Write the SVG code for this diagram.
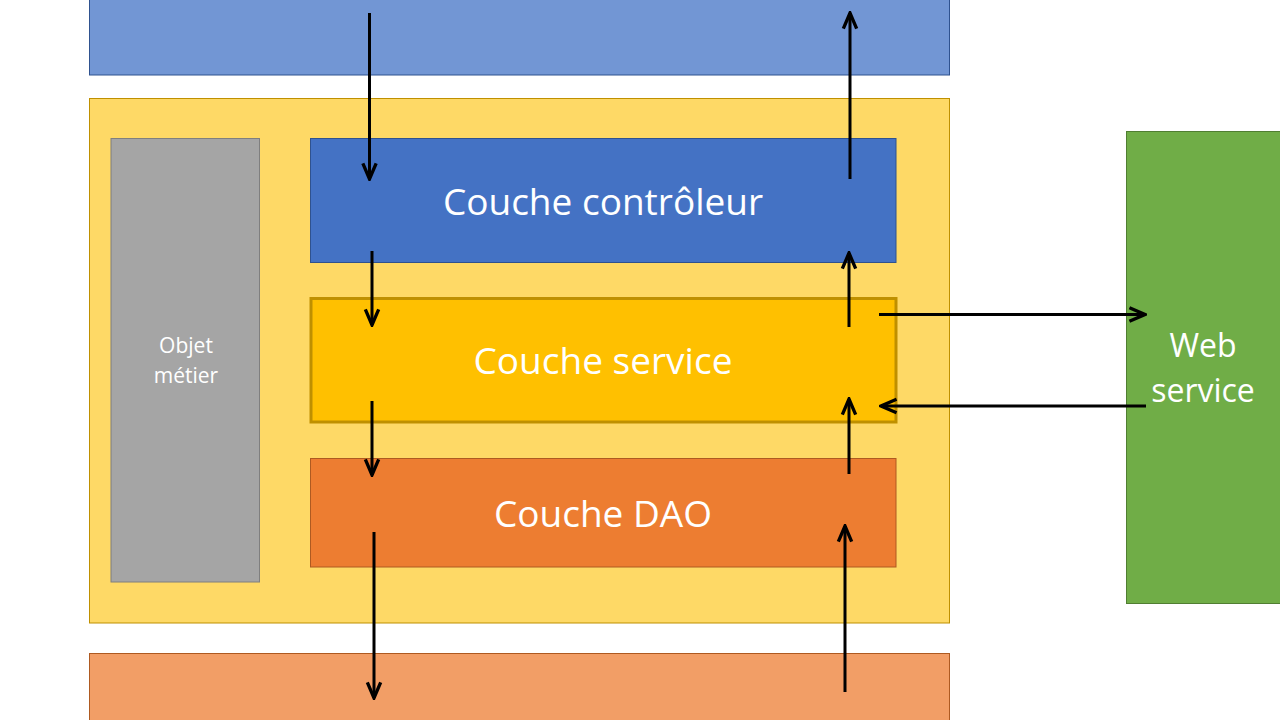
<svg xmlns="http://www.w3.org/2000/svg" width="1280" height="720" viewBox="0 0 1280 720">
<style>
.t{fill:#fff;font-family:"Open Sans","Liberation Sans",sans-serif;text-anchor:middle}
.c{stroke:#000;stroke-width:3;fill:none;marker-end:url(#ah)}
</style>
<defs>
<marker id="ah" markerUnits="userSpaceOnUse" markerWidth="20" markerHeight="20" viewBox="-16 -8 18 16" refX="0" refY="0" orient="auto">
<path d="M-14,-6 L0,0 L-14,6" fill="none" stroke="#000" stroke-width="3"/>
</marker>
</defs>
<rect width="1280" height="720" fill="#fff"/>
<g id="top"><rect x="89.5" y="-5" width="860" height="80" fill="#7296D4" stroke="#2F528F"/></g>
<g id="app"><rect x="89.5" y="98.5" width="860" height="524.5" fill="#FED966" stroke="#BF9000"/></g>
<g id="objet"><rect x="111" y="138.5" width="148.5" height="443.5" fill="#A5A5A5" stroke="#7F7F7F"/>
<text class="t" x="186" y="353" font-size="21">Objet</text><text class="t" x="186" y="383" font-size="21">métier</text></g>
<g id="controleur"><rect x="310.5" y="138.5" width="585.5" height="124" fill="#4472C4" stroke="#2F528F"/>
<text class="t" x="603" y="215" font-size="37">Couche contrôleur</text></g>
<g id="service"><rect x="311" y="298.5" width="585" height="123.5" fill="#FFC000" stroke="#BF9000" stroke-width="3"/>
<text class="t" x="603" y="374" font-size="37">Couche service</text></g>
<g id="dao"><rect x="310.5" y="458.5" width="585.5" height="108.5" fill="#ED7D31" stroke="#AE5A21"/>
<text class="t" x="603" y="527" font-size="37">Couche DAO</text></g>
<g id="webservice"><rect x="1126.5" y="131.5" width="160" height="472" fill="#70AD47" stroke="#507E32"/>
<text class="t" x="1203" y="357" font-size="32">Web</text><text class="t" x="1203" y="402" font-size="32">service</text></g>
<g id="db"><rect x="89.5" y="653.5" width="860" height="80" fill="#F29E66" stroke="#AE5A21"/></g>
<g id="connectors">
<line class="c" x1="369.5" y1="13" x2="369.5" y2="179"/>
<line class="c" x1="372" y1="251" x2="372" y2="325"/>
<line class="c" x1="372" y1="401" x2="372" y2="475"/>
<line class="c" x1="374" y1="532" x2="374" y2="698"/>
<line class="c" x1="850" y1="179" x2="850" y2="13"/>
<line class="c" x1="849" y1="327" x2="849" y2="253"/>
<line class="c" x1="849" y1="474" x2="849" y2="399"/>
<line class="c" x1="845" y1="692" x2="845" y2="526"/>
<line class="c" x1="879" y1="314.5" x2="1145" y2="314.5"/>
<line class="c" x1="1146" y1="406" x2="881" y2="406"/>
</g>
</svg>
